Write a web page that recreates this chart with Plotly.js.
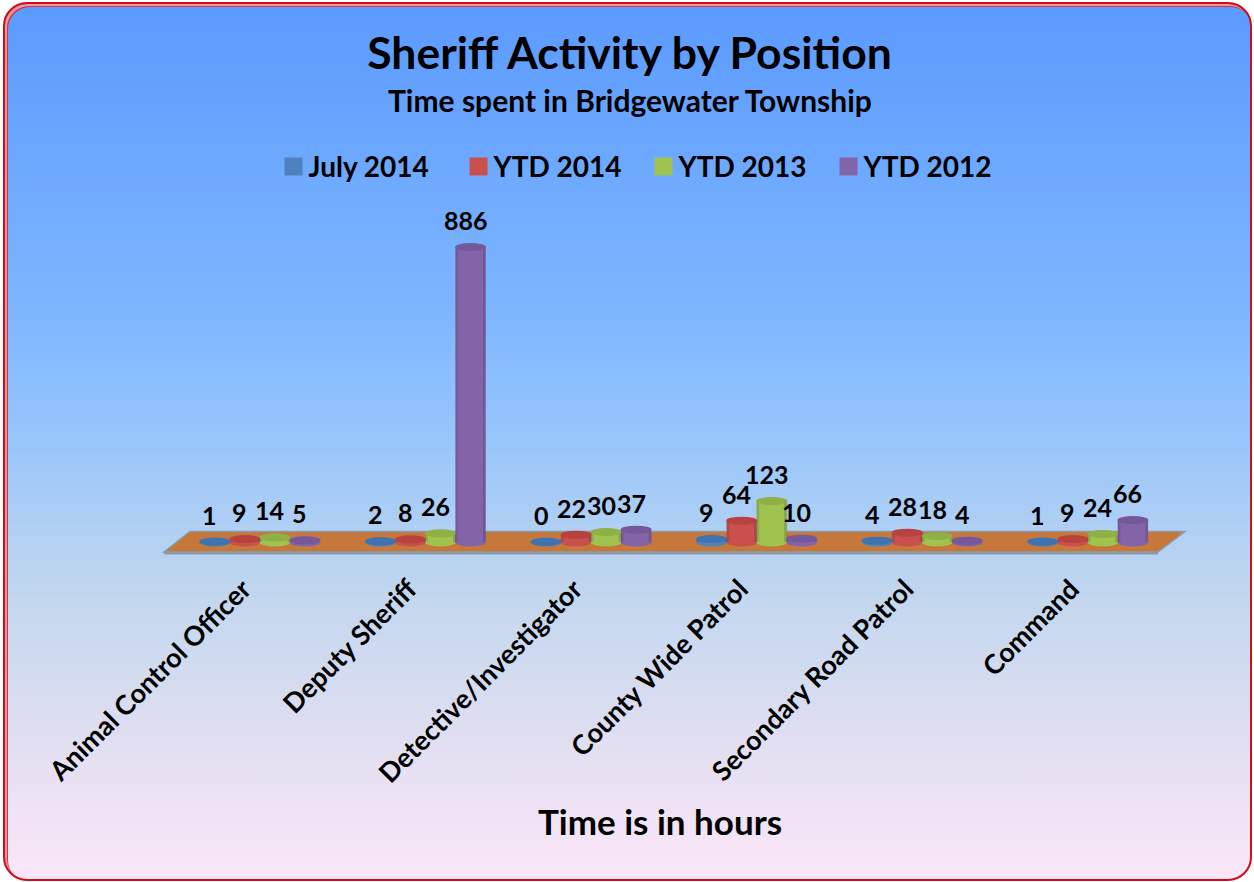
<!DOCTYPE html>
<html>
<head>
<meta charset="utf-8">
<script src="https://cdn.plot.ly/plotly-3.0.1.min.js"></script>
<style>
html,body{margin:0;padding:0;width:1254px;height:882px;overflow:hidden;background:#fff}
#frame{position:absolute;left:3px;top:2px;width:1245px;height:875px;border:2px solid #cf0d1b;border-radius:24px;
background:linear-gradient(180deg,#5b9aff 0%,#7db6ff 35%,#98c6fb 50%,#c3d7ee 68%,#e2dff1 85%,#fbe6f8 100%);
box-shadow:inset 2px 2px 0 #ee9aa0,inset 3px 3px 0 #d5303c}
#chart{position:absolute;left:0;top:0;width:1254px;height:882px}
.legend .legendpoints path{d:path("M14,9H-4V-9H14Z")}
</style>
</head>
<body>
<div id="frame"></div>
<div id="chart"></div>
<script>
const categories = ["Animal Control Officer","Deputy Sheriff","Detective/Investigator","County Wide Patrol","Secondary Road Patrol","Command"];
const july2014 = [1,2,0,9,4,1];
const ytd2014  = [9,8,22,64,28,9];
const ytd2013  = [14,26,30,123,18,24];
const ytd2012  = [5,886,37,10,4,66];
const seriesNames = ["July 2014","YTD 2014","YTD 2013","YTD 2012"];
const seriesValues = [july2014,ytd2014,ytd2013,ytd2012];
const seriesColors = ["#4f81bd","#c9504c","#a0c24f","#8464a8"];
const capColors = ["#3f72ae","#b8423f","#8fb045","#74589a"];

const FONT = "Lato, Carlito, sans-serif";
const L=148,R=1172,T=209,B=552;
const px=(x,y)=>((x-L)/(R-L)).toFixed(5)+" "+((B-y)/(B-T)).toFixed(5);
const poly=pts=>"M"+pts.map(p=>px(p[0],p[1])).join(" L")+" Z";

const BW=15.5, STEP=30;
const shapes=[
 {type:"path",xref:"paper",yref:"paper",layer:"below",path:poly([[164,551],[1158,551],[1158,554.5],[164,554.5]]),fillcolor:"#8c9aa8",line:{width:0}},
 {type:"path",xref:"paper",yref:"paper",layer:"below",path:poly([[190,531.5],[1185,531.5],[1158,552],[164,552]]),fillcolor:"#c6783a",line:{color:"#8c9aa8",width:1.5}}
];
const annotations=[
  {xref:"paper",yref:"paper",x:0.4707,y:(B-100)/(B-T),text:"Time spent in Bridgewater Township",showarrow:false,
   xanchor:"center",yanchor:"middle",font:{family:FONT,size:30,color:"#000",weight:700}}
];
seriesValues.forEach((vals,s)=>{
  const off=(s-1.5)*STEP;
  vals.forEach((v,c)=>{
    const base={xref:"x",yref:"y",xsizemode:"pixel",ysizemode:"pixel",xanchor:categories[c]};
    shapes.push(Object.assign({},base,{type:"circle",layer:"below",yanchor:0,x0:off-BW,x1:off+BW,y0:-4.5,y1:4.5,fillcolor:seriesColors[s],line:{width:0}}));
    if(v>=8){
      const sb={type:"rect",layer:"above",xref:"x",yref:"y",xsizemode:"pixel",xanchor:categories[c],y0:0,y1:v,line:{width:0}};
      shapes.push(Object.assign({},sb,{x0:off-BW,x1:off-BW+3,fillcolor:"rgba(40,20,60,0.14)"}));
      shapes.push(Object.assign({},sb,{x0:off+BW-3,x1:off+BW,fillcolor:"rgba(40,20,60,0.18)"}));
    }
    shapes.push(Object.assign({},base,{type:"circle",layer:"above",yanchor:v,x0:off-BW,x1:off+BW,y0:-4,y1:4,fillcolor:capColors[s],line:{width:0}}));
    annotations.push({xref:"x",yref:"y",x:categories[c],y:v,xshift:off-5,yshift:27,text:String(v),showarrow:false,
      xanchor:"center",yanchor:"middle",font:{family:FONT,size:25,color:"#000",weight:700}});
  });
});

const traces=seriesNames.map((n,s)=>({type:"bar",name:n,x:categories,y:seriesValues[s],marker:{color:seriesColors[s]},hoverinfo:"x+y+name"}));

const layout={
  width:1254,height:882,
  paper_bgcolor:"rgba(0,0,0,0)",plot_bgcolor:"rgba(0,0,0,0)",
  margin:{l:L,r:1254-R,t:T,b:882-B,autoexpand:false},
  font:{family:FONT,color:"#000"},
  barmode:"group",bargap:0.275,bargroupgap:0,
  title:{text:"Sheriff Activity by Position",x:0.502,xanchor:"center",y:0.939,yanchor:"middle",
    font:{family:FONT,size:44.5,weight:700,color:"#000"}},
  xaxis:{type:"category",range:[-0.676,5.508],showgrid:false,zeroline:false,showline:false,ticks:"",
    tickmode:"array",tickvals:categories.map((_,i)=>i-0.1),ticktext:categories,
    tickangle:-45,ticklabelstandoff:15,tickfont:{family:FONT,size:27,weight:700,color:"#000"},
    title:{text:"Time is in hours",standoff:22,font:{family:FONT,size:35,weight:700,color:"#000"}}},
  yaxis:{visible:false,range:[-30,1000],showgrid:false,zeroline:false},
  showlegend:true,
  legend:{orientation:"h",x:0.1177,xanchor:"left",y:1.123,yanchor:"middle",bgcolor:"rgba(0,0,0,0)",
    font:{family:FONT,size:28,weight:700,color:"#000"},entrywidth:140,entrywidthmode:"pixels",traceorder:"normal"},
  shapes:shapes,annotations:annotations
};
Plotly.newPlot("chart",traces,layout,{displayModeBar:false});
</script>
</body>
</html>
